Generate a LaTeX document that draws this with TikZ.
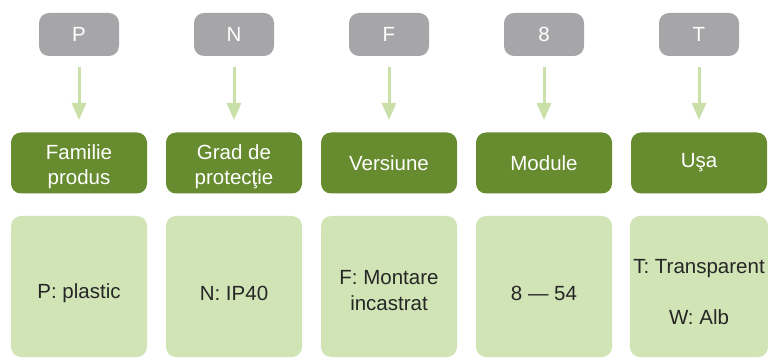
\documentclass[tikz,border=0pt]{standalone}
\usepackage{fontspec}
\setmainfont{Liberation Sans}
\usepackage{tikz}
\usetikzlibrary{arrows.meta}

\definecolor{codegray}{RGB}{166,166,169}
\definecolor{darkgreen}{RGB}{103,139,47}
\definecolor{lightgreen}{RGB}{209,228,182}
\definecolor{arrowgreen}{RGB}{201,224,168}
\definecolor{textgray}{RGB}{38,38,38}

\begin{document}
\begin{tikzpicture}[x=1pt,y=1pt,node distance=155pt,font=\fontsize{20.5}{25}\selectfont,
                    code node/.style={rectangle,rounded corners=10pt,fill=codegray,text=white,minimum width=80pt,minimum height=43pt},
                    head node/.style={rectangle,rounded corners=10pt,fill=darkgreen,text=white,minimum width=136pt,minimum height=61pt,align=center},
                    value node/.style={rectangle,rounded corners=10pt,fill=lightgreen,text=textgray,minimum width=136pt,minimum height=141pt,align=center,text height=28pt},
                    ->,>={Triangle[width=14pt,length=17pt]},line width=3pt,arrowgreen]

  \useasboundingbox (0,0) rectangle (768,-358);

  \node[code node] (1) at (79,-34.5) {P};
  \node[code node] (2) [right of=1] {N};
  \node[code node] (3) [right of=2] {F};
  \node[code node] (4) [right of=3] {8};
  \node[code node] (5) [right of=4] {T};

  \node[head node, text height=47pt] (A) at (79,-163) {Familie\\produs};
  \node[head node, text height=47pt] (B) [right of=A] {Grad de\\protecţie};
  \node[head node] (C) [right of=B] {Versiune};
  \node[head node] (D) [right of=C] {Module};
  \node[head node] (E) [right of=D] {Uşa};

  \node[value node] (a) at (79,-286.5) {P: plastic};
  \node[value node] (b) [right of=a] {N: IP40};
  \node[value node, text height=49pt] (c) [right of=b] {F: Montare\\[1pt]incastrat};
  \node[value node] (d) [right of=c] {8 — 54};
  \node[value node, text height=76pt] (e) [right of=d] {T: Transparent\\[26pt]W: Alb};

  \path[shorten <=10pt,shorten >=11pt]
    (1) edge (A)
    (2) edge (B)
    (3) edge (C)
    (4) edge (D)
    (5) edge (E);
\end{tikzpicture}
\end{document}
